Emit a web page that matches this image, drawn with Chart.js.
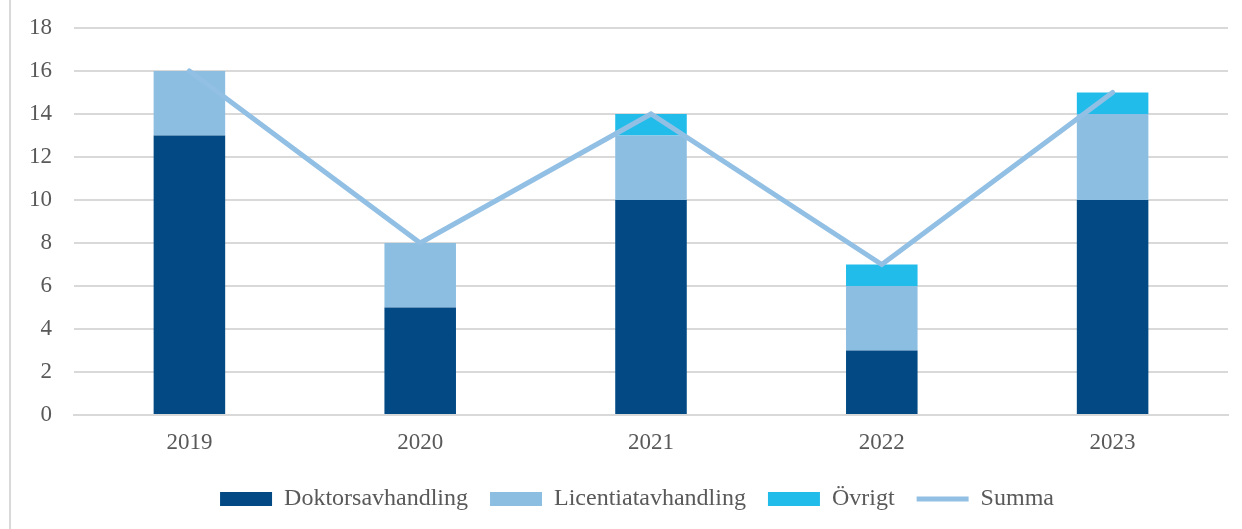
<!DOCTYPE html>
<html>
<head>
<meta charset="utf-8">
<script src="https://cdn.jsdelivr.net/npm/chart.js@4.4.1/dist/chart.umd.min.js"></script>
<style>
  body { margin: 0; background: #fff; }
  #wrap { position: relative; width: 1242px; height: 529px; }
  #edge { position: absolute; left: 9px; top: 0; width: 2px; height: 529px; background: #d9d9d9; }
  canvas { position: absolute; left: 0; top: 0; }
</style>
</head>
<body>
<div id="wrap">
  <div id="edge"></div>
  <canvas id="chart" width="1242" height="529"></canvas>
</div>
<script>
const years = ['2019', '2020', '2021', '2022', '2023'];
const doktor = [13, 5, 10, 3, 10];
const licentiat = [3, 3, 3, 3, 4];
const ovrigt = [0, 0, 1, 1, 1];
const summa = [16, 8, 14, 7, 15];

const textColor = '#595959';
const serif = "'Liberation Serif', 'DejaVu Serif', serif";

// nudge the legend a bit to the right, like the original
const legendShift = {
    id: 'legendShift',
    afterLayout(chart) {
        chart.legend.left += 23;
        chart.legend.right += 23;
    },
};

const ctx = document.getElementById('chart').getContext('2d');
const chart = new Chart(ctx, {
    type: 'bar',
    data: {
        labels: years,
        datasets: [
            {
                type: 'line',
                label: 'Summa',
                data: summa,
                borderColor: '#92bfe4',
                backgroundColor: '#92bfe4',
                borderWidth: 5,
                borderCapStyle: 'round',
                pointRadius: 0,
                pointStyle: 'line',
                tension: 0,
                order: 0,
            },
            {
                label: 'Doktorsavhandling',
                data: doktor,
                backgroundColor: '#034a85',
                pointStyle: 'rect',
                stack: 's',
                order: 1,
            },
            {
                label: 'Licentiatavhandling',
                data: licentiat,
                backgroundColor: '#8cbee2',
                pointStyle: 'rect',
                stack: 's',
                order: 1,
            },
            {
                label: 'Övrigt',
                data: ovrigt,
                backgroundColor: '#22bcea',
                pointStyle: 'rect',
                stack: 's',
                order: 1,
            },
        ],
    },
    options: {
        responsive: false,
        animation: false,
        datasets: {
            bar: { categoryPercentage: 1, barPercentage: 0.31 }
        },
        layout: { padding: { left: 0, right: 14, top: 28, bottom: 8 } },
        scales: {
            x: {
                stacked: true,
                afterFit: (axis) => { axis.height = 50; },
                grid: { display: false, drawTicks: false },
                border: { color: '#d9d9d9', width: 2 },
                ticks: { color: textColor, font: { family: serif, size: 23 }, padding: 14 },
            },
            y: {
                stacked: true,
                min: 0,
                max: 18,
                afterFit: (axis) => {
                    axis.width = 74;
                    axis.paddingTop = 0;
                },
                grid: { color: '#d9d9d9', lineWidth: 2, drawTicks: false },
                border: { display: false },
                ticks: { stepSize: 2, color: textColor, font: { family: serif, size: 23 }, padding: 22 },
            },
        },
        plugins: {
            tooltip: { enabled: false },
            legend: {
                position: 'bottom',
                labels: {
                    usePointStyle: true,
                    pointStyleWidth: 52,
                    boxHeight: 14,
                    padding: 22,
                    color: textColor,
                    font: { family: serif, size: 24 },
                    sort: (a, b) => {
                        const rank = { 'Doktorsavhandling': 0, 'Licentiatavhandling': 1, 'Övrigt': 2, 'Summa': 3 };
                        return rank[a.text] - rank[b.text];
                    },
                },
            },
        },
    },
    plugins: [legendShift],
});
</script>
</body>
</html>
